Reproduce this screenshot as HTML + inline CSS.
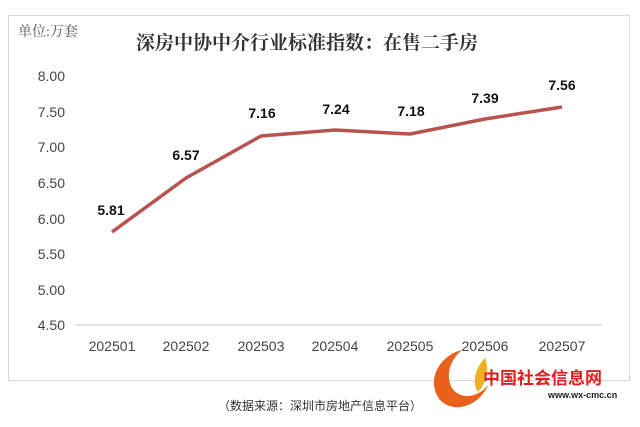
<!DOCTYPE html>
<html><head><meta charset="utf-8"><style>
body{margin:0;background:#fff;width:640px;height:422px;overflow:hidden}
svg text{font-family:"Liberation Sans","Noto Sans CJK SC",sans-serif}
svg text.serif{font-family:"Liberation Serif","Noto Serif CJK SC",serif}
</style></head><body>
<svg width="640" height="422" xmlns="http://www.w3.org/2000/svg">
<rect x="8.5" y="15.5" width="621" height="365" fill="#fff" stroke="#d9d9d9"/>
<text x="18" y="36" font-size="14" fill="#555" class="serif">单位:万套</text>
<text x="136" y="49" font-size="19" font-weight="bold" fill="#333" class="serif">深房中协中介行业标准指数：在售二手房</text>
<g font-size="14" fill="#444" text-anchor="end">
<text x="65" y="81">8.00</text><text x="65" y="117">7.50</text><text x="65" y="152">7.00</text><text x="65" y="188">6.50</text><text x="65" y="224">6.00</text><text x="65" y="259">5.50</text><text x="65" y="295">5.00</text><text x="65" y="330">4.50</text>
</g>
<line x1="75" y1="325" x2="602" y2="325" stroke="#d9d9d9" stroke-width="1.5"/>
<g font-size="14" fill="#444" text-anchor="middle">
<text x="112" y="351">202501</text><text x="186" y="351">202502</text><text x="261" y="351">202503</text><text x="335" y="351">202504</text><text x="410" y="351">202505</text><text x="485" y="351">202506</text><text x="562" y="351">202507</text>
</g>
<polyline points="112,232 186,178 261,136 335,130 410,134 485,119 562,107" fill="none" stroke="#b85450" stroke-width="3.5" stroke-linejoin="round"/>
<g font-size="14" font-weight="bold" fill="#111" text-anchor="middle">
<text x="111" y="215">5.81</text><text x="186" y="160">6.57</text><text x="262" y="118">7.16</text><text x="336" y="114">7.24</text><text x="411" y="116">7.18</text><text x="485" y="103">7.39</text><text x="562" y="90">7.56</text>
</g>
<text x="320" y="410" font-size="12" fill="#333" text-anchor="middle">（数据来源：深圳市房地产信息平台）</text>
<path d="M462,350 C440,355 425,380 440,400 C455,415 480,405 488,385 C478,398 460,400 452,388 C445,375 450,360 462,350Z" fill="#e8621e"/>
<path d="M485,358 C478,365 470,380 478,392 C485,385 490,370 485,358Z" fill="#f0b020"/>
<text x="483" y="384" font-size="17" font-weight="bold" fill="#e02020">中国社会信息网</text>
<text x="548" y="398" font-size="9" font-weight="bold" fill="#222">www.wx-cmc.cn</text>
</svg>
</body></html>
